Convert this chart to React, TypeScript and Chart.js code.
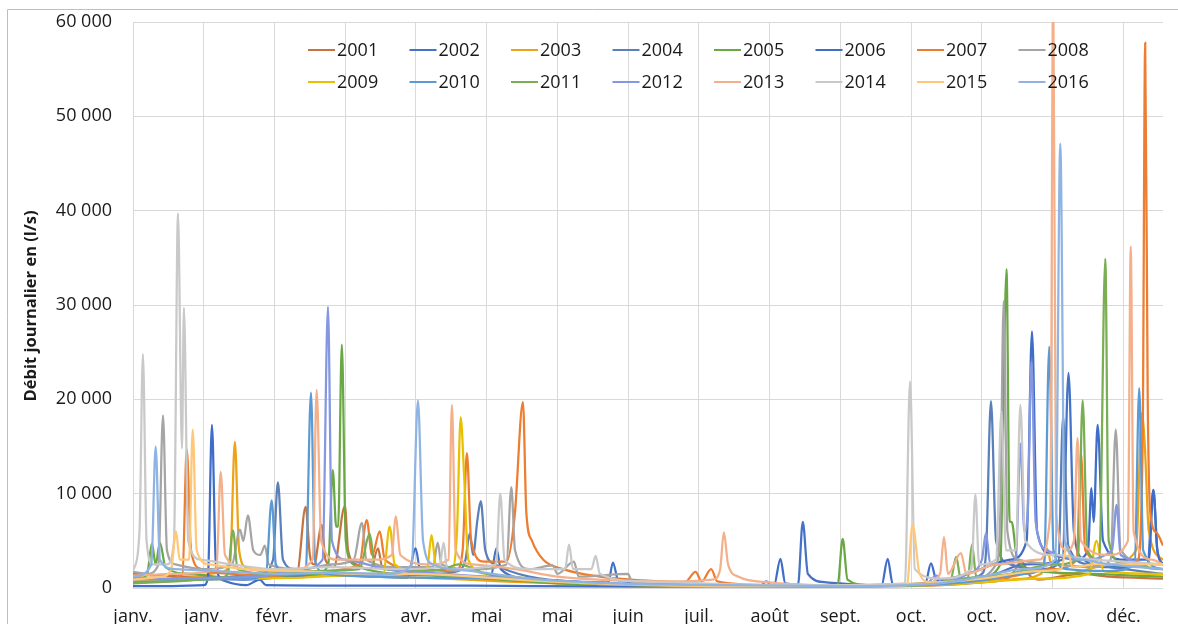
import React, { useEffect, useRef } from 'react';
import { Chart, registerables } from 'chart.js';

Chart.register(...registerables);

const FONT = "'Open Sans', 'DejaVu Sans', sans-serif";

const tickDays = [0, 25, 50, 75, 100, 125, 150, 175, 200, 225, 250, 275, 300, 325, 350];
const tickLabels = ['janv.', 'janv.', 'févr.', 'mars', 'avr.', 'mai', 'mai', 'juin', 'juil.', 'août', 'sept.', 'oct.', 'oct.', 'nov.', 'déc.'];
const yTicks = [0, 10000, 20000, 30000, 40000, 50000, 60000];
const yTitle = 'Débit journalier en (l/s)';

const years = ['2001', '2002', '2003', '2004', '2005', '2006', '2007', '2008', '2009', '2010', '2011', '2012', '2013', '2014', '2015', '2016'];
const colors = ['#C5743F', '#4472C4', '#EDA317', '#5B7FB8', '#6AA846', '#3F6DC8', '#ED7D31', '#A5A5A5', '#E8C000', '#5B9BD5', '#79AE52', '#8497E0', '#F4B08A', '#C9C9C9', '#FFC878', '#8FB4E3'];

// [day of year, daily flow l/s]
const s2001 = [[0,1500],[10,1300],[20,1200],[30,1100],[40,1000],[50,1100],[58,1500],[61,8600],[62.5,3500],[64,2500],[66.7,6700],[68,3000],[71,2200],[74.9,8700],[76,4000],[79,2500],[84,2000],[86.6,4200],[88,2300],[95,1800],[105,1500],[120,1100],[140,700],[160,400],[190,250],[230,180],[270,200],[300,600],[310,1200],[314,2800],[317,1300],[320,900],[335,1500],[345,1200],[364,1000]];
const s2002 = [[0,900],[12,800],[25,1000],[40,900],[55,1200],[70,1400],[85,1200],[97,1100],[99.9,4200],[101.5,1800],[110,1300],[120,1100],[126.5,1200],[128.4,4200],[130,2000],[140,1000],[155,700],[168,600],[169.6,2700],[171.5,800],[190,400],[215,250],[222,300],[223.8,700],[225.5,300],[235,300],[236.7,7000],[238.5,1500],[245,600],[260,300],[280,400],[295,900],[305,1500],[315,2500],[328.5,3000],[330.6,22800],[332.5,6000],[336,3000],[345,2200],[358.5,2500],[360.6,10400],[362,4000],[364,2500]];
const s2003 = [[0,1200],[10,1000],[20,1100],[30,1600],[34.3,2500],[36,15500],[37.5,4000],[40,2200],[50,1700],[60,1500],[75,1300],[90,1200],[110,1000],[130,700],[150,500],[170,350],[200,200],[240,150],[270,200],[290,400],[310,900],[321,1500],[323,4200],[325,1800],[330,1500],[345,2500],[354.5,4000],[356.5,18500],[357.5,15500],[359,6000],[364,3000]];
const s2004 = [[0,1000],[15,900],[30,1100],[45,1500],[49.5,3000],[51.2,11200],[53,3000],[57,2000],[70,1600],[85,1500],[100,1400],[115,1800],[117.5,3000],[119,5800],[120.2,3500],[121.7,7200],[122.9,9200],[124.5,4000],[128,2500],[140,1200],[160,600],[190,300],[230,200],[270,250],[290,600],[300,1500],[301.5,4000],[303.2,19800],[305,5000],[310,2500],[320,2000],[327,2500],[328.7,18200],[330.5,4500],[338,2500],[350,2000],[364,1500]];
const s2005 = [[0,700],[5,1500],[6.7,4700],[8,2500],[9.5,4800],[11.5,2200],[20,1500],[35,1100],[50,1300],[65,1500],[69,2500],[70.6,12500],[71.8,6500],[72.5,6500],[73.8,25800],[75.2,5000],[78,2500],[85,1800],[100,1400],[115,1200],[130,900],[150,500],[180,300],[220,200],[249,300],[250.8,5200],[252.5,900],[260,300],[285,600],[300,1200],[306.5,2500],[308.7,33800],[309.8,7000],[310.5,7000],[312.5,3000],[320,1800],[340,1500],[364,1200]];
const s2006 = [[0,200],[10,200],[25,300],[26.5,1200],[27.9,17300],[29.3,2500],[32,800],[40,300],[44.8,900],[47,300],[80,250],[100,250],[120,250],[140,200],[180,150],[226.5,200],[228.8,3100],[230.5,500],[245,200],[264.5,200],[266.7,3100],[268.5,400],[280,500],[282,2600],[284,800],[295,1500],[310,3000],[315.8,5000],[317.7,27200],[319.5,6000],[325,3500],[333,3000],[337.5,4000],[338.7,10600],[339.5,7000],[340.9,17300],[342.8,5000],[350,3000],[359,3000],[360.6,10400],[362,4000],[364,2500]];
const s2007 = [[0,1000],[10,900],[17.5,1500],[19,14700],[20.5,4000],[24,2000],[35,1500],[50,1300],[65,1800],[80,2500],[82.6,7200],[84.5,3500],[87.2,6000],[89,3000],[100,2000],[114,1800],[116.5,4000],[118,14300],[119.5,5000],[124,2800],[132,2800],[134.9,7700],[137.8,19700],[139,8000],[141,5000],[145,3000],[152,2000],[165,1200],[180,800],[195,600],[198.8,1700],[201,700],[204.3,2000],[206.5,700],[225,300],[260,300],[290,600],[310,1200],[325,2000],[333.5,3000],[335,14300],[336.5,4000],[345,2500],[355,3000],[356.8,15000],[357.7,57800],[358.6,20000],[359.5,8000],[361.9,5800],[364,4500]];
const s2008 = [[0,1700],[5,1500],[9,2500],[10.6,18300],[12,4000],[15,2500],[25,2000],[35,2500],[37.8,6200],[39,5000],[40.6,7700],[42.5,4000],[45,3500],[46.6,4500],[48,2500],[60,2000],[70,2500],[78,3000],[80.9,6900],[82.5,3000],[95,2200],[106,2200],[107.7,4800],[109,2500],[120,2000],[132,2500],[133.7,10700],[135,4000],[140,2000],[148.3,2400],[150,1500],[155.8,2800],[157.5,1200],[174.9,1500],[176.5,600],[200,300],[240,200],[280,300],[295,800],[305,2500],[306.5,8000],[307.7,30400],[309,6000],[313,3000],[325,2500],[340,2200],[345.5,3000],[347.3,16800],[349,4000],[364,2000]];
const s2009 = [[0,800],[20,900],[40,1000],[60,1100],[75,1300],[88.5,1500],[90.7,6500],[92.5,2500],[100,1800],[104,2200],[105.5,5600],[107,2500],[113,2000],[114.5,6000],[115.8,18100],[117,12000],[118.5,3000],[125,1500],[140,1000],[160,500],[190,250],[230,150],[270,200],[300,600],[320,1000],[338,1500],[340.5,5000],[343,1800],[364,1500]];
const s2010 = [[0,600],[10,700],[25,900],[40,1000],[47,1500],[49,9300],[50.5,2500],[55,1500],[61,1500],[62.9,20700],[64.3,3000],[68,1500],[85,1200],[100,1100],[130,1000],[145,800],[170,400],[200,250],[240,150],[280,300],[300,800],[315,1500],[322,2500],[323.8,25600],[325.3,4000],[330,2000],[345,1800],[354,2500],[355.6,21200],[357,4000],[364,2000]];
const s2011 = [[0,500],[15,700],[30,1000],[33.5,1500],[35.3,6100],[37,2000],[50,1500],[65,1800],[80,2000],[83.7,5700],[85.5,2200],[100,1800],[110,2000],[115,2500],[125,1500],[140,900],[165,500],[200,250],[240,150],[270,250],[289,900],[290.9,3300],[292.5,1000],[295,1000],[296.5,4600],[298,1200],[310,1500],[325,2500],[334,3000],[335.6,19900],[337.3,4000],[341.5,3000],[343.6,34900],[344.8,5000],[350,2500],[364,2000]];
const s2012 = [[0,900],[15,1000],[30,1100],[45,1200],[60,2000],[67,3000],[68.9,29800],[70.3,5000],[75,3000],[90,2000],[110,1500],[125,1200],[140,900],[170,500],[200,300],[240,200],[280,400],[284,1300],[286,500],[295,1500],[300,3000],[301.4,5800],[303,2500],[312,3000],[313.6,15300],[315,6000],[316.2,8000],[317.5,24000],[319,7000],[323,4000],[335,3000],[346,4000],[347.6,8800],[349,3500],[364,2500]];
const s2013 = [[0,1300],[15,1500],[29.5,2000],[31,12300],[32.5,3500],[40,2000],[55,1800],[63.5,3000],[64.9,21000],[66.5,5000],[72,3000],[85,3000],[91.5,3500],[92.8,7600],[94.5,3500],[105,2500],[111.5,3000],[112.7,19400],[114,4000],[120,2500],[135,2000],[150,1200],[170,800],[190,700],[205,900],[207.5,2000],[208.8,5900],[210.3,2500],[214,1200],[225,600],[250,300],[280,500],[285.2,1500],[286.6,5400],[288,1500],[292.6,3700],[294.5,1500],[305,2500],[320,3000],[324.2,8000],[325.2,65000],[326.2,8000],[330,4000],[332.5,5000],[333.8,15900],[335,5000],[345,3500],[351.6,5000],[352.6,36200],[353.6,6000],[360,3000],[364,2500]];
const s2014 = [[0,1800],[2.3,6000],[3.5,24800],[4.8,5000],[7,2500],[12,2500],[14.5,5000],[15.9,39700],[17.3,14800],[18,29700],[19.5,5000],[24,3000],[35,2500],[50,2000],[70,2200],[95,2000],[108.3,2200],[109.8,4800],[111,2000],[128.3,2500],[129.8,10000],[131.3,3000],[140,2000],[152.7,2000],[154.1,4600],[155.5,2000],[162,2000],[163.5,3400],[165,1500],[180,700],[210,400],[250,300],[272.8,500],[274.6,21900],[276.3,2000],[285,1000],[296.3,2000],[297.7,9900],[299,2500],[305,3000],[306.9,18700],[308.5,4000],[312,4000],[313.6,19400],[315.3,5000],[325,3500],[340,3000],[364,2500]];
const s2015 = [[0,900],[10,1200],[13.5,2000],[15.2,6000],[16.5,3000],[19.8,3000],[21.1,16800],[22.5,4000],[27,2500],[40,2000],[60,1800],[80,1500],[100,1500],[120,1200],[140,800],[170,400],[210,200],[260,200],[273.5,300],[275.5,6700],[278,1500],[282,600],[300,1000],[320,1800],[328,2000],[330,4500],[332,2200],[340,2500],[364,2500]];
const s2016 = [[0,1200],[6.5,2500],[8,15000],[9.5,3000],[15,2000],[30,1800],[50,1500],[70,1600],[90,1500],[98.5,2500],[100.7,19900],[102.5,5000],[106,2500],[120,1800],[140,1000],[170,500],[210,300],[250,200],[285,500],[300,1200],[315,2000],[326,3000],[327.7,47100],[329.3,5000],[335,3000],[345,2500],[364,2000]];

const series = [s2001, s2002, s2003, s2004, s2005, s2006, s2007, s2008, s2009, s2010, s2011, s2012, s2013, s2014, s2015, s2016];

const fmt = (v: number) => String(v).replace(/\B(?=(\d{3})+(?!\d))/g, ' ');

const decorPlugin = {
  id: 'decor',
  afterDraw(chart: any) {
    const ctx = chart.ctx;
    ctx.save();
    // chart frame
    ctx.strokeStyle = '#BFBFBF';
    ctx.lineWidth = 1;
    ctx.beginPath();
    ctx.moveTo(7.5, 624);
    ctx.lineTo(7.5, 9.5);
    ctx.lineTo(1178, 9.5);
    ctx.stroke();
    // y title
    ctx.fillStyle = '#1a1a1a';
    ctx.font = `bold 16.5px ${FONT}`;
    ctx.textAlign = 'center';
    ctx.textBaseline = 'middle';
    ctx.translate(31, 306);
    ctx.rotate(-Math.PI / 2);
    ctx.fillText(yTitle, 0, 0);
    ctx.restore();
    // legend
    ctx.save();
    ctx.font = `18px ${FONT}`;
    ctx.textAlign = 'left';
    ctx.textBaseline = 'middle';
    chart.data.datasets.forEach((ds: any, i: number) => {
      const col = i % 8;
      const row = Math.floor(i / 8);
      const x = 308 + col * 101.5;
      const y = 50 + row * 32;
      ctx.strokeStyle = ds.borderColor;
      ctx.lineWidth = 2;
      ctx.beginPath();
      ctx.moveTo(x, y);
      ctx.lineTo(x + 27, y);
      ctx.stroke();
      ctx.fillStyle = '#1a1a1a';
      ctx.fillText(ds.label, x + 29, y + 1);
    });
    ctx.restore();
  },
};

export default function App() {
  const ref = useRef<HTMLCanvasElement | null>(null);
  useEffect(() => {
    if (!ref.current) return;
    const chart = new Chart(ref.current, {
      type: 'line',
      data: {
        datasets: series.map((s, i) => ({
          label: years[i],
          data: s.map(([x, y]) => ({ x, y })),
          borderColor: colors[i],
          backgroundColor: colors[i],
          borderWidth: 2.25,
          pointRadius: 0,
          fill: false,
          cubicInterpolationMode: 'monotone' as const,
          order: series.length - i,
        })),
      },
      options: {
        responsive: false,
        animation: false,
        events: [],
        layout: { padding: { top: 22, right: 15, left: 0, bottom: 0 } },
        plugins: { legend: { display: false }, tooltip: { enabled: false }, title: { display: false } },
        scales: {
          x: {
            type: 'linear',
            min: 0,
            max: 364,
            afterBuildTicks: (s: any) => { s.ticks = tickDays.map((v) => ({ value: v })); },
            afterFit: (s: any) => { s.height = 36; s.paddingLeft = 0; s.paddingRight = 0; },
            ticks: {
              autoSkip: false,
              maxRotation: 0,
              padding: 18,
              color: '#1a1a1a',
              font: { family: FONT, size: 18 },
              callback: (_v: any, idx: number) => tickLabels[idx] ?? '',
            },
            grid: { color: '#D9D9D9', drawTicks: false, lineWidth: 1 },
            border: { display: false },
          },
          y: {
            min: 0,
            max: 60000,
            afterBuildTicks: (s: any) => { s.ticks = yTicks.map((v) => ({ value: v })); },
            afterFit: (s: any) => { s.width = 133; s.paddingTop = 0; s.paddingBottom = 0; },
            ticks: {
              padding: 21,
              color: '#1a1a1a',
              font: { family: FONT, size: 18 },
              callback: (v: any) => fmt(Number(v)),
            },
            grid: { color: '#D9D9D9', drawTicks: false, lineWidth: 1 },
            border: { display: false },
          },
        },
      },
      plugins: [decorPlugin],
    });
    return () => chart.destroy();
  }, []);
  return (
    <div style={{ position: 'fixed', left: 0, top: 0, width: 1178, height: 624, background: '#fff' }}>
      <canvas ref={ref} width={1178} height={624} style={{ display: 'block' }} />
    </div>
  );
}
